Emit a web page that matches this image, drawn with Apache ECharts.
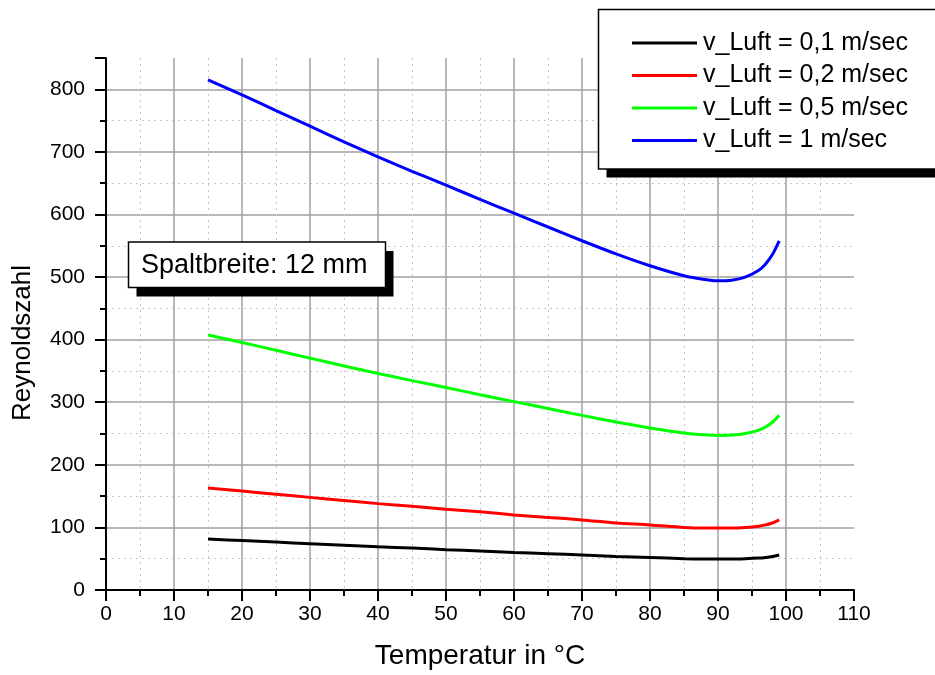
<!DOCTYPE html>
<html>
<head>
<meta charset="utf-8">
<script src="https://cdn.jsdelivr.net/npm/echarts@6/dist/echarts.min.js"></script>
<style>
  html, body { margin: 0; padding: 0; background: #fff; }
  #main { width: 935px; height: 675px; }
</style>
</head>
<body>
<div id="main"></div>
<script>
// Temperatur in °C
const temps = [15, 20, 25, 30, 35, 40, 45, 50, 55, 60, 65, 70, 75, 80, 85, 88, 90, 92, 94, 96, 97, 98, 99]

// Reynoldszahl pro Luftgeschwindigkeit
const re01 = [81.5, 79, 76.5, 74, 71.5, 69, 67, 64.5, 62.5, 60, 58, 56, 53.5, 52, 50, 49.5, 49.5, 49.5, 50, 51, 52, 53.5, 56]
const re02 = [163, 158, 153, 148, 143, 138, 134, 129, 125, 120, 116, 112, 107, 104, 100, 99, 99, 99, 100, 102, 104, 107, 112]
const re05 = [407.5, 395.5, 383, 370.5, 358, 346, 334.5, 323.5, 312, 301, 290, 279, 268.5, 259, 251, 248, 247, 247.5, 250, 255.5, 260.5, 268, 279]
const re1 = [815, 791, 766, 741, 716, 692, 669, 647, 624, 602, 580, 558, 537, 518, 502, 496, 494, 495, 500, 511, 521, 536, 558]

const seriesNames = ['v_Luft = 0,1 m/sec', 'v_Luft = 0,2 m/sec', 'v_Luft = 0,5 m/sec', 'v_Luft = 1 m/sec']
const seriesColors = ['#000000', '#ff0000', '#00ff00', '#0000ff']
const seriesData = [re01, re02, re05, re1]

const font = 'Liberation Sans, Arial, sans-serif'

const myChart = echarts.init(document.getElementById('main'))

const axisCommon = {
  type: 'value',
  axisLine: { show: true, onZero: false, lineStyle: { color: '#000', width: 2 } },
  axisTick: { show: true, inside: false, length: 11, lineStyle: { color: '#000', width: 2 } },
  minorTick: { show: true, splitNumber: 2, length: 6, lineStyle: { color: '#000', width: 2 } },
  axisLabel: { fontFamily: font, fontSize: 21, color: '#000', showMaxLabel: false },
  splitLine: {
    show: true,
    showMinLine: false,
    showMaxLine: false,
    lineStyle: { color: '#a0a0a0', width: 1.5 },
  },
  minorSplitLine: {
    show: true,
    lineStyle: { color: '#c8c8c8', width: 1, type: [2, 4] },
  },
}

// box with hard black drop shadow (legend + annotation)
function shadowBox(x, y, w, h, dx, dy) {
  return [
    { type: 'rect', z: 50, silent: true, shape: { x: x + dx, y: y + dy, width: w, height: h }, style: { fill: '#000' } },
    { type: 'rect', z: 51, silent: true, shape: { x: x, y: y, width: w, height: h }, style: { fill: '#fff', stroke: '#000', lineWidth: 1.5 } },
  ]
}

const option = {
  backgroundColor: '#fff',
  animation: false,
  graphic: [
    ...shadowBox(598.5, 9.5, 360, 159.5, 8, 8.5),
    ...shadowBox(128.5, 242, 257, 45.5, 8, 9),
    {
      type: 'text',
      z: 52,
      silent: true,
      style: { text: 'Spaltbreite: 12 mm', x: 141, y: 266, verticalAlign: 'middle', font: '27px ' + font, fill: '#000' },
    },
    {
      type: 'text',
      z: 52,
      silent: true,
      x: 23,
      y: 343,
      rotation: Math.PI / 2,
      style: { text: 'Reynoldszahl', x: 0, y: 0, align: 'center', verticalAlign: 'middle', font: '26px ' + font, fill: '#000' },
    },
  ],
  legend: {
    z: 60,
    orient: 'vertical',
    left: 598,
    top: 9,
    padding: [21, 34, 18, 34],
    itemGap: 6.5,
    itemWidth: 65,
    itemHeight: 3,
    icon: 'rect',
    textStyle: { fontFamily: font, fontSize: 25, color: '#000', lineHeight: 26, padding: [0, 0, 0, 1] },
    data: seriesNames,
  },
  grid: {
    left: 106,
    right: 81,
    top: 58,
    bottom: 83,
  },
  xAxis: Object.assign({}, axisCommon, {
    min: 0,
    max: 110,
    interval: 10,
    name: 'Temperatur in °C',
    nameLocation: 'middle',
    nameGap: 52,
    nameTextStyle: { fontFamily: font, fontSize: 28, color: '#000' },
    axisLabel: Object.assign({}, axisCommon.axisLabel, { margin: 14, showMaxLabel: true }),
  }),
  yAxis: Object.assign({}, axisCommon, {
    min: 0,
    max: 850,
    interval: 100,
    axisLabel: Object.assign({}, axisCommon.axisLabel, { margin: 21 }),
  }),
  series: seriesNames.map((name, i) => ({
    name: name,
    type: 'line',
    smooth: 0.3,
    symbol: 'none',
    color: seriesColors[i],
    lineStyle: { width: 3, color: seriesColors[i] },
    data: temps.map((t, k) => [t, seriesData[i][k]]),
  })),
}

myChart.setOption(option)
</script>
</body>
</html>
